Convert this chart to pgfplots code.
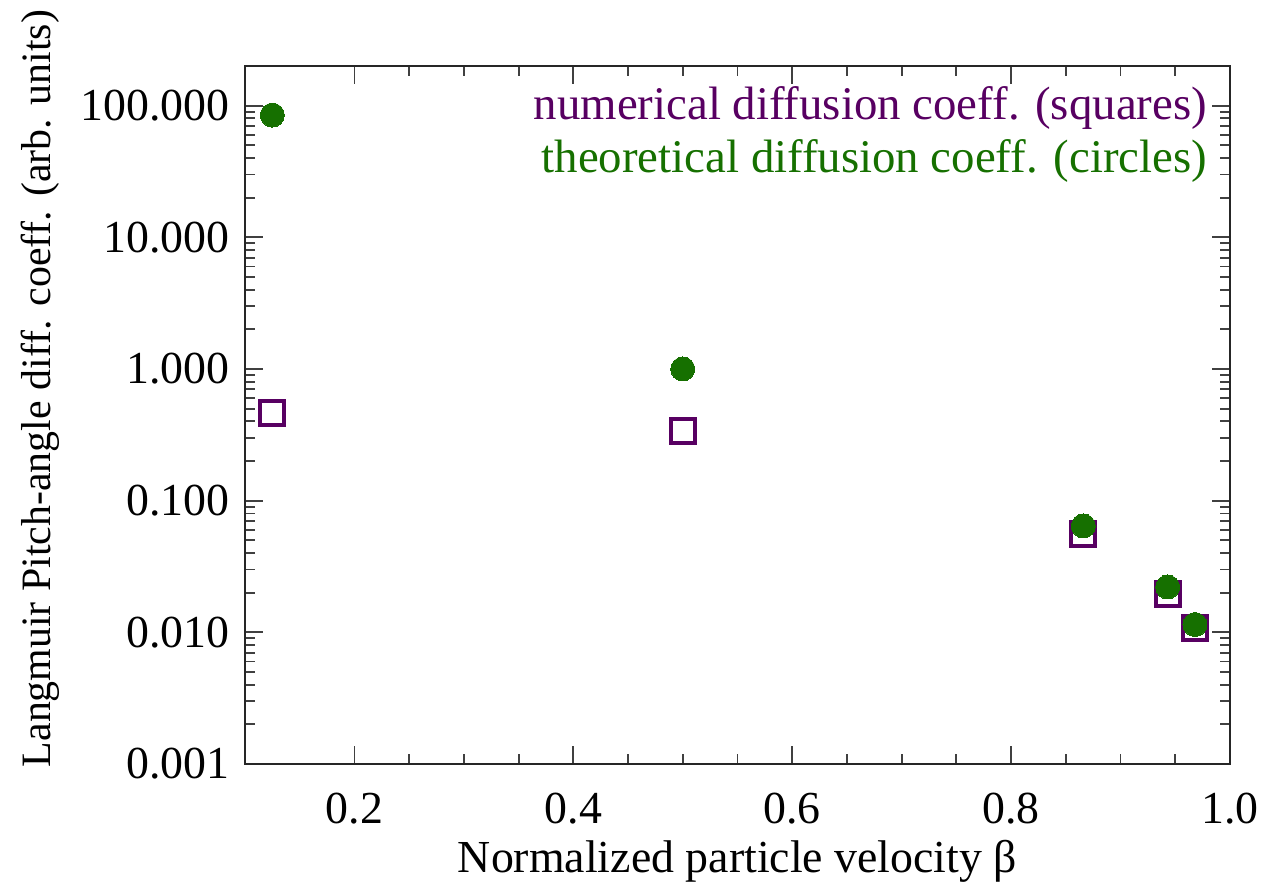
\documentclass[border=0pt]{standalone}
\usepackage{pgfplots}
\pgfplotsset{compat=1.18}
\usepackage{fontspec}
\setmainfont{Liberation Serif}
\definecolor{numpurple}{RGB}{88,0,98}
\definecolor{theogreen}{RGB}{22,112,0}
\begin{document}
\fontsize{23}{27.6}\selectfont
\begin{tikzpicture}
\path[use as bounding box] (-122.5bp,-61bp) rectangle (515.5bp,382bp);
\begin{axis}[
  at={(0,0)}, anchor=south west,
  scale only axis, width=492.5bp, height=349bp,
  xmin=0.1, xmax=1.0,
  ymode=log, ymin=0.001, ymax=200,
  xtick={0.2,0.4,0.6,0.8,1.0},
  xticklabels={0.2,0.4,0.6,0.8,1.0},
  minor x tick num=3,
  ytick={0.001,0.01,0.1,1,10,100},
  yticklabels={0.001,0.010,0.100,1.000,10.000,100.000},
  /pgf/number format/assume math mode=true,
  tick label style={font=\fontsize{23}{27.6}\selectfont},
  xticklabel style={anchor=base, yshift=-29.5bp},
  label style={font=\fontsize{23}{27.6}\selectfont},
  axis line style={black!85, line width=1bp},
  every tick/.style={black!75, line width=0.9bp},
  major tick length=9bp, minor tick length=5bp,
  xlabel={Normalized particle velocity β},
  ylabel={Langmuir Pitch-angle diff. coeff. (arb. units)},
  xlabel style={at={(rel axis cs:0.5,0)}, anchor=base, yshift=-54bp},
  ylabel style={at={([xshift=-97bp]rel axis cs:0,0.538)}, anchor=base,
    font=\fontsize{21}{25.2}\selectfont},
  clip=false,
]
\addplot[only marks, mark=square, mark size=6bp,
  mark options={draw=numpurple, line width=2bp}]
  coordinates {(0.125,0.46)(0.5,0.34)(0.866,0.0563)(0.943,0.0197)(0.968,0.0108)};
\addplot[only marks, mark=*, mark size=6bp,
  mark options={draw=theogreen, fill=theogreen, line width=0pt}]
  coordinates {(0.125,84.7)(0.5,1.0)(0.866,0.0643)(0.943,0.0221)(0.968,0.01146)};
\node[anchor=base east, inner sep=0pt, text=numpurple, font=\fontsize{23.5}{28}\selectfont] at (rel axis cs:0.977,0.924) {numerical diffusion coeff. (squares)};
\node[anchor=base east, inner sep=0pt, text=theogreen, font=\fontsize{23.5}{28}\selectfont] at (rel axis cs:0.977,0.848) {theoretical diffusion coeff. (circles)};
\end{axis}
\end{tikzpicture}
\end{document}
